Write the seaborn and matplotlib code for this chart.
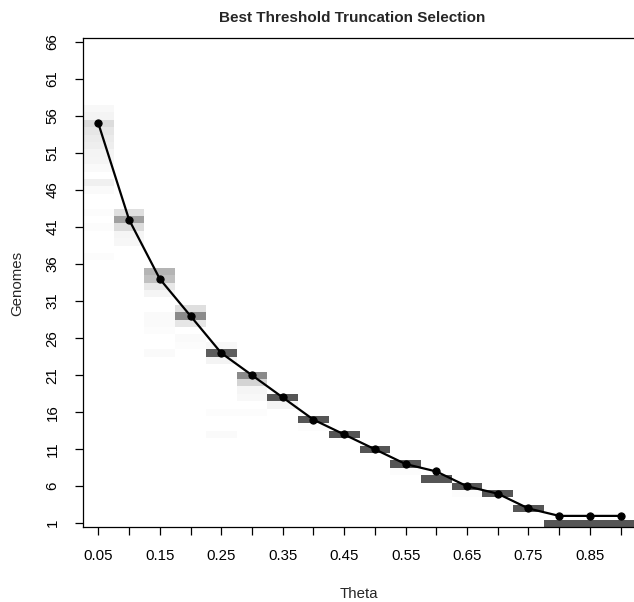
import numpy as np
import pandas as pd
import matplotlib
matplotlib.use("Agg")
import matplotlib.pyplot as plt
from matplotlib.colors import LinearSegmentedColormap
import seaborn as sns

# ---------------- data ----------------
thetas = [0.05, 0.10, 0.15, 0.20, 0.25, 0.30, 0.35, 0.40, 0.45,
          0.50, 0.55, 0.60, 0.65, 0.70, 0.75, 0.80, 0.85, 0.90]
best_genomes = [55, 42, 34, 29, 24, 21, 18, 15, 13, 11, 9, 8, 6, 5, 3, 2, 2, 2]

genome_min, genome_max = 1, 66
y_ticks = list(range(1, 67, 5))

# heat cells: theta, genome count, relative frequency (0..1)
cell_theta = [0.05] * 14 + [0.10] * 5 + [0.15] * 8 + [0.20] * 5 + [0.25] * 5 \
    + [0.30] * 5 + [0.35] * 2 + [0.40] * 2 + [0.45] + [0.50] + [0.55] * 2 \
    + [0.60] + [0.65] * 2 + [0.70] + [0.75] + [0.80, 0.85, 0.90]
cell_genome = [57, 56, 55, 54, 53, 52, 51, 50, 49, 47, 46, 43, 41, 37,
               43, 42, 41, 40, 39,
               35, 34, 33, 32, 29, 28, 27, 24,
               30, 29, 28, 26, 25,
               25, 24, 23, 16, 13,
               21, 20, 19, 18, 16,
               18, 17,
               15, 14,
               13,
               11,
               9, 8,
               7,
               6, 5,
               5,
               3,
               1, 1, 1]
cell_freq = [0.04, 0.07, 0.21, 0.15, 0.12, 0.10, 0.07, 0.06, 0.03, 0.09, 0.03, 0.02, 0.02, 0.02,
             0.19, 0.56, 0.21, 0.06, 0.05,
             0.44, 0.37, 0.14, 0.06, 0.03, 0.03, 0.02, 0.03,
             0.19, 0.68, 0.15, 0.03, 0.02,
             0.04, 0.95, 0.07, 0.02, 0.03,
             0.69, 0.25, 0.06, 0.04, 0.02,
             1.0, 0.07,
             1.0, 0.02,
             1.0,
             1.0,
             1.0, 0.02,
             1.0,
             1.0, 0.02,
             1.0,
             1.0,
             1.0, 1.0, 1.0]

# ---------------- build grid ----------------
theta_arr = np.array(thetas)
rows = np.arange(genome_min, genome_max + 1)
grid = pd.DataFrame(0.0, index=rows, columns=thetas)
for t, g, f in zip(cell_theta, cell_genome, cell_freq):
    grid.loc[g, t] = f

step = theta_arr[1] - theta_arr[0]
x_edges = np.append(theta_arr - step / 2, theta_arr[-1] + step / 2)
y_edges = np.append(rows - 0.5, rows[-1] + 0.5)

# ---------------- style ----------------
sns.set_style("white")
plt.rcParams["font.family"] = ["Liberation Sans", "DejaVu Sans"]

fig = plt.figure(figsize=(6.34, 6.02), dpi=100)
W, H = 634, 602
ax = fig.add_axes([83 / W, (H - 527) / H, 553 / W, (527 - 38.3) / H])

cmap = LinearSegmentedColormap.from_list("wg", ["#ffffff", "#555555"])
ax.pcolormesh(x_edges, y_edges, grid.values, cmap=cmap, vmin=0, vmax=1,
              shading="flat", edgecolor="none", antialiased=False)

line_df = pd.DataFrame({"Theta": thetas, "Genomes": best_genomes})
sns.lineplot(data=line_df, x="Theta", y="Genomes", ax=ax, color="black",
             linewidth=1.6, marker="o", markersize=5.2,
             markeredgecolor="black", markerfacecolor="black", sort=False)

ax.set_xlim(x_edges[0], x_edges[-1])
ax.set_ylim(y_edges[0], y_edges[-1])

ax.set_xticks(thetas)
ax.set_xticklabels([f"{t:.2f}" if i % 2 == 0 else "" for i, t in enumerate(thetas)])
ax.set_yticks(y_ticks)
ax.set_yticklabels([str(v) for v in y_ticks])

ax.tick_params(axis="both", which="major", direction="out", length=5.8,
               width=0.9, colors="black", labelsize=10.8,
               bottom=True, left=True, top=False, right=False)
ax.tick_params(axis="x", pad=10)
ax.tick_params(axis="y", pad=11, labelrotation=90)
for lab in ax.get_yticklabels():
    lab.set_va("center")

for s in ["left", "top", "bottom"]:
    ax.spines[s].set_visible(True)
    ax.spines[s].set_color("black")
    ax.spines[s].set_linewidth(0.9)
ax.spines["right"].set_visible(False)

ax.set_xlabel("")
ax.set_ylabel("")
fig.text(359 / W, 1 - 594 / H, "Theta", ha="center", va="center", fontsize=10.8)
fig.text(17 / W, 1 - 283 / H, "Genomes", ha="center", va="center",
         rotation=90, fontsize=10.8)
fig.text(352 / W, 1 - 18 / H, "Best Threshold Truncation Selection",
         ha="center", va="center", fontsize=11, fontweight="bold")

fig.savefig("out.png", dpi=100)
